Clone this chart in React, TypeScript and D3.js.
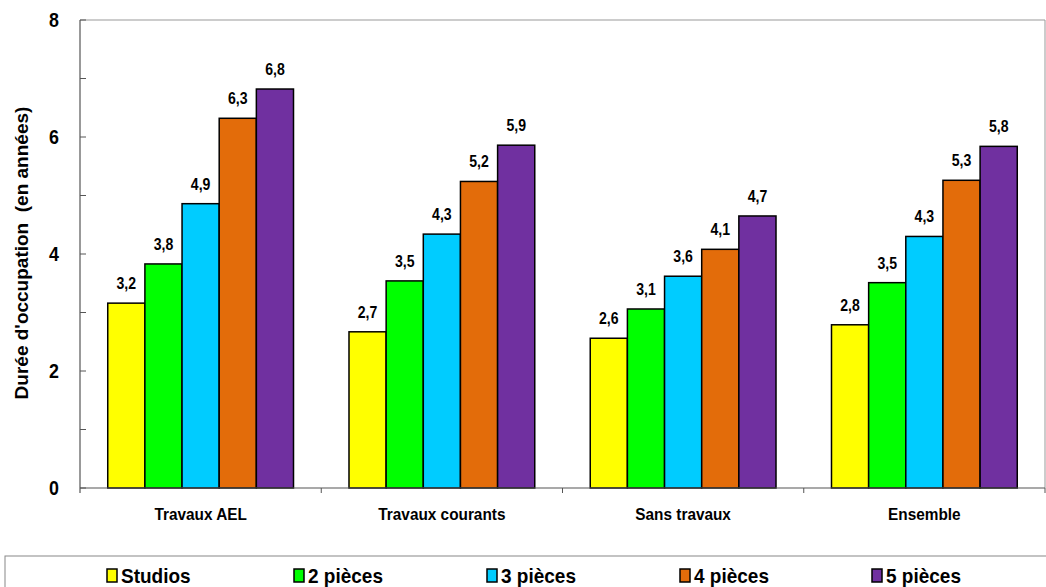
import React from "react";
import * as d3 from "d3";

const categories = ["Travaux AEL", "Travaux courants", "Sans travaux", "Ensemble"];
const seriesNames = ["Studios", "2 pièces", "3 pièces", "4 pièces", "5 pièces"];
const seriesColors = ["#FFFF00", "#00FF00", "#00CCFF", "#E36C0A", "#7030A0"];
const studios = [3.16, 2.67, 2.56, 2.79];
const deuxPieces = [3.83, 3.54, 3.06, 3.51];
const troisPieces = [4.86, 4.34, 3.62, 4.3];
const quatrePieces = [6.32, 5.24, 4.08, 5.26];
const cinqPieces = [6.82, 5.86, 4.65, 5.84];
const seriesValues = [studios, deuxPieces, troisPieces, quatrePieces, cinqPieces];
const yTickValues = [0, 2, 4, 6, 8];
const yMinorTicks = [1, 3, 5, 7];

const W = 1046;
const H = 587;
const FONT = "'Liberation Sans', Arial, sans-serif";

export default function App() {
  const left = 80, right = 1045, top = 20, bottom = 488;
  const x0 = d3.scaleBand<string>().domain(categories).range([left, right]).paddingInner(0.23).paddingOuter(0.115);
  const x1 = d3.scaleBand<string>().domain(seriesNames).range([0, x0.bandwidth()]).padding(0);
  const y = d3.scaleLinear().domain([0, 8]).range([bottom, top]);
  const fmt = (v: number) => (Math.round(v * 10) / 10).toFixed(1).replace(".", ",");
  const step = x0.step();
  const legendX = [107, 294, 487, 680, 872];

  return (
    <svg width={W} height={H} style={{ position: "absolute", left: 0, top: 0 }} fontFamily={FONT}>
      <rect x={0} y={0} width={W} height={H} fill="#fff" />
      <line x1={left} x2={right} y1={top} y2={top} stroke="#999" strokeWidth={1} />
      <line x1={right} x2={right} y1={top} y2={bottom} stroke="#999" strokeWidth={1} />
      {categories.map((c, ci) => (
        <g key={c} transform={`translate(${x0(c)},0)`}>
          {seriesNames.map((s, si) => {
            const v = seriesValues[si][ci];
            const bx = x1(s)!;
            const bw = x1.bandwidth();
            return (
              <g key={s}>
                <rect x={bx} y={y(v)} width={bw} height={bottom - y(v)} fill={seriesColors[si]} stroke="#000" strokeWidth={1.5} />
                <text transform={`translate(${bx + bw / 2},${y(v) - 14}) scale(0.88,1)`} textAnchor="middle" fontSize={16} fontWeight="bold" fill="#000">{fmt(v)}</text>
              </g>
            );
          })}
        </g>
      ))}
      <line x1={left} x2={right} y1={bottom} y2={bottom} stroke="#555" strokeWidth={1.2} />
      <line x1={left} x2={left} y1={top} y2={bottom + 5} stroke="#555" strokeWidth={1.2} />
      {categories.map((c, i) => (
        <line key={"xt" + i} x1={left + step * (i + 1)} x2={left + step * (i + 1)} y1={bottom} y2={bottom + 5} stroke="#555" />
      ))}
      {[...yTickValues, ...yMinorTicks].map((t) => (
        <line key={"yt" + t} x1={left} x2={left + 6} y1={y(t)} y2={y(t)} stroke="#555" />
      ))}
      {yTickValues.map((t) => (
        <text key={"yl" + t} transform={`translate(${left - 21},${y(t) + 7}) scale(0.85,1)`} textAnchor="end" fontSize={21} fontWeight="bold">{t}</text>
      ))}
      {categories.map((c) => (
        <text key={"xl" + c} transform={`translate(${x0(c)! + x0.bandwidth() / 2},520) scale(0.96,1)`} textAnchor="middle" fontSize={16} fontWeight="bold">{c}</text>
      ))}
      <text transform={`translate(28,253) rotate(-90)`} textAnchor="middle" fontSize={19} fontWeight="bold">
        {"Durée d'occupation\u00A0\u00A0(en années)"}
      </text>
      <rect x={5} y={556} width={1045} height={40} fill="#fff" stroke="#888" strokeWidth={1} />
      {seriesNames.map((s, i) => (
        <g key={"lg" + s}>
          <rect x={legendX[i]} y={569} width={10} height={13} fill={seriesColors[i]} stroke="#000" strokeWidth={1.5} />
          <text transform={`translate(${legendX[i] + 14},583) scale(0.95,1)`} fontSize={20} fontWeight="bold">{s}</text>
        </g>
      ))}
    </svg>
  );
}
